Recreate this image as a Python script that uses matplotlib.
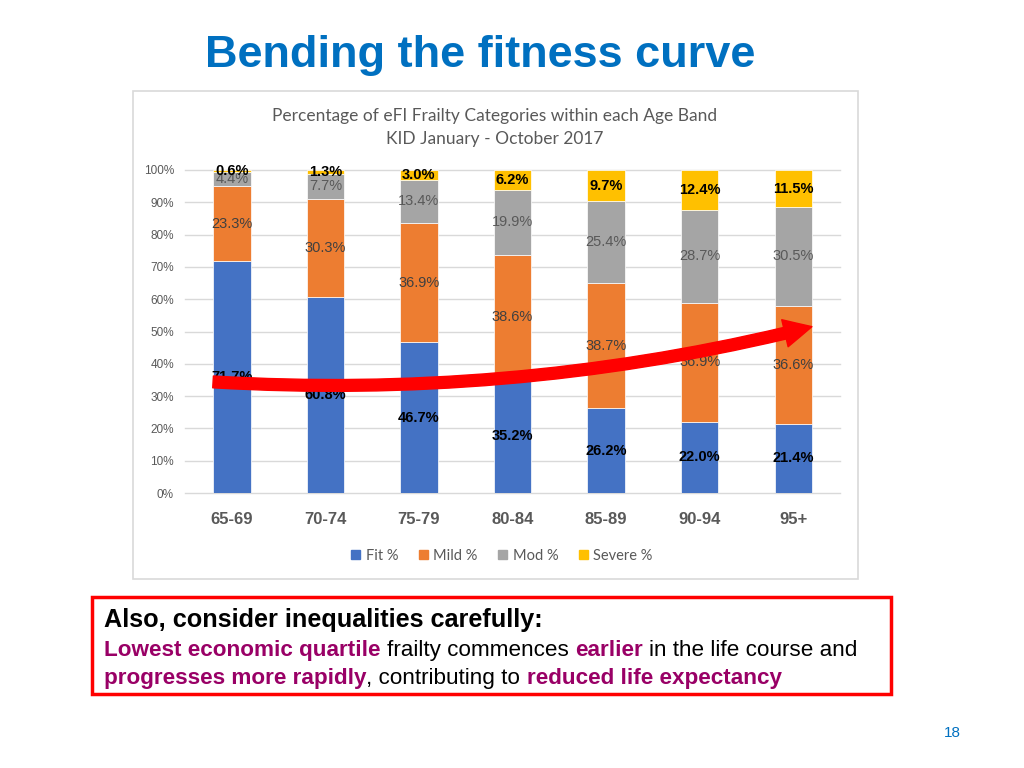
import matplotlib
matplotlib.use("Agg")
import matplotlib.pyplot as plt
from matplotlib.patches import Rectangle, FancyArrowPatch
from matplotlib.path import Path

# ---- data ----
age_bands = ["65-69", "70-74", "75-79", "80-84", "85-89", "90-94", "95+"]
fit_pct = [71.7, 60.8, 46.7, 35.2, 26.2, 22.0, 21.4]
mild_pct = [23.3, 30.3, 36.9, 38.6, 38.7, 36.9, 36.6]
mod_pct = [4.4, 7.7, 13.4, 19.9, 25.4, 28.7, 30.5]
severe_pct = [0.6, 1.3, 3.0, 6.2, 9.7, 12.4, 11.5]
series_names = ["Fit %", "Mild %", "Mod %", "Severe %"]
y_ticks = [0, 10, 20, 30, 40, 50, 60, 70, 80, 90, 100]

colors = ["#4472C4", "#ED7D31", "#A5A5A5", "#FFC000"]
label_colors = ["#000000", "#404040", "#595959", "#000000"]
label_weights = ["bold", "normal", "normal", "bold"]

W, H = 1024, 768
fig = plt.figure(figsize=(W / 100, H / 100), dpi=100)
fig.patch.set_facecolor("white")

def fx(px):
    return px / W

def fy(py):
    return 1 - py / H

ARIAL = "Liberation Sans"
CAL = "Lato"

# Slide title
fig.text(fx(480), fy(67), "Bending the fitness curve", ha="center", va="baseline",
         fontsize=32.5, fontweight="bold", color="#0070C0", family=ARIAL)

# Chart frame
fig.patches.append(Rectangle((fx(133), fy(579)), fx(858) - fx(133), fy(91) - fy(579),
                             transform=fig.transFigure, fill=False,
                             edgecolor="#D9D9D9", linewidth=1.2))

# Chart title
fig.text(fx(495), fy(116), "Percentage of eFI Frailty Categories within each Age Band",
         ha="center", va="center", fontsize=12.5, color="#595959", family=CAL)
fig.text(fx(495), fy(139), "KID January - October 2017",
         ha="center", va="center", fontsize=12.5, color="#595959", family=CAL)

# Axes
ax = fig.add_axes([fx(185), fy(493), fx(840) - fx(185), fy(170) - fy(493)])
x = list(range(len(age_bands)))
series = [fit_pct, mild_pct, mod_pct, severe_pct]
bottoms = [0.0] * len(x)
bar_w = 0.4
for s_i, vals in enumerate(series):
    ax.bar(x, vals, bar_w, bottom=bottoms, color=colors[s_i], edgecolor="white",
           linewidth=0.5, zorder=2, label=series_names[s_i])
    for i, v in enumerate(vals):
        ax.text(x[i], bottoms[i] + v / 2, f"{v:.1f}%", ha="center", va="center",
                fontsize=10.5, color=label_colors[s_i], fontweight=label_weights[s_i],
                family=ARIAL, zorder=3)
    bottoms = [b + v for b, v in zip(bottoms, vals)]

ax.set_xlim(-0.5, len(x) - 0.5)
ax.set_ylim(0, 100)
ax.set_yticks(y_ticks)
ax.set_yticklabels([f"{t}%" for t in y_ticks], fontsize=8.5, color="#595959", family=ARIAL)
ax.set_xticks(x)
ax.set_xticklabels(age_bands, fontsize=12, fontweight="bold", color="#595959", family=ARIAL)
ax.tick_params(axis="both", length=0)
ax.tick_params(axis="x", pad=14)
ax.tick_params(axis="y", pad=8)
for sp in ax.spines.values():
    sp.set_visible(False)
ax.grid(axis="y", color="#D9D9D9", linewidth=1, zorder=0)
for gl in ax.get_ygridlines():
    gl.set_clip_on(False)
ax.set_axisbelow(True)

# Red curved arrow
verts = [(-0.2, 34.4), (3.08, 28.8), (6.2, 51.5)]
path = Path(verts, [Path.MOVETO, Path.CURVE3, Path.CURVE3])
arrow = FancyArrowPatch(path=path,
                        arrowstyle="simple,head_length=20,head_width=20,tail_width=8.5",
                        mutation_scale=1, color="#FF0000", zorder=5, transform=ax.transData)
ax.add_patch(arrow)

# Legend
handles = [Rectangle((0, 0), 1, 1, color=c) for c in colors]
leg = fig.legend(handles, series_names, loc="center", bbox_to_anchor=(fx(502), fy(556)),
                 ncol=4, frameon=False, handlelength=0.6, handleheight=0.6,
                 handletextpad=0.4, columnspacing=1.4,
                 prop={"family": CAL, "size": 10.5})
for t in leg.get_texts():
    t.set_color("#595959")

# Inequalities box
fig.patches.append(Rectangle((fx(92), fy(694)), fx(891) - fx(92), fy(597) - fy(694),
                             transform=fig.transFigure, fill=False,
                             edgecolor="#FF0000", linewidth=2.5))

fig.canvas.draw()
renderer = fig.canvas.get_renderer()
PURPLE = "#990066"

def text_width(s, size, weight):
    t = fig.text(0, 0, s, fontsize=size, fontweight=weight, family=ARIAL)
    w = t.get_window_extent(renderer).width
    t.remove()
    return w

def rich_line(x0, y0, parts, size):
    xp = x0
    for s, color, weight in parts:
        lead = len(s) - len(s.lstrip(" "))
        trail = len(s) - len(s.rstrip(" "))
        sp_w = text_width("a a", size, weight) - text_width("aa", size, weight)
        xp += lead * sp_w
        core = s.strip(" ")
        t = fig.text(fx(xp), fy(y0), core, ha="left", va="baseline", fontsize=size,
                     fontweight=weight, color=color, family=ARIAL)
        xp += t.get_window_extent(renderer).width + trail * sp_w

SZ = 16.2
rich_line(104, 627, [("Also, consider inequalities carefully:", "#000000", "bold")], 18.2)
rich_line(104, 656, [("Lowest economic quartile", PURPLE, "bold"),
                     (" frailty commences ", "#000000", "normal"),
                     ("earlier", PURPLE, "bold"),
                     (" in the life course and", "#000000", "normal")], SZ)
rich_line(104, 684, [("progresses more rapidly", PURPLE, "bold"),
                     (", contributing to ", "#000000", "normal"),
                     ("reduced life expectancy", PURPLE, "bold")], SZ)

# Page number
fig.text(fx(952), fy(733), "18", ha="center", va="center", fontsize=11,
         color="#0070C0", family=ARIAL)

fig.savefig("out.png", dpi=100)
